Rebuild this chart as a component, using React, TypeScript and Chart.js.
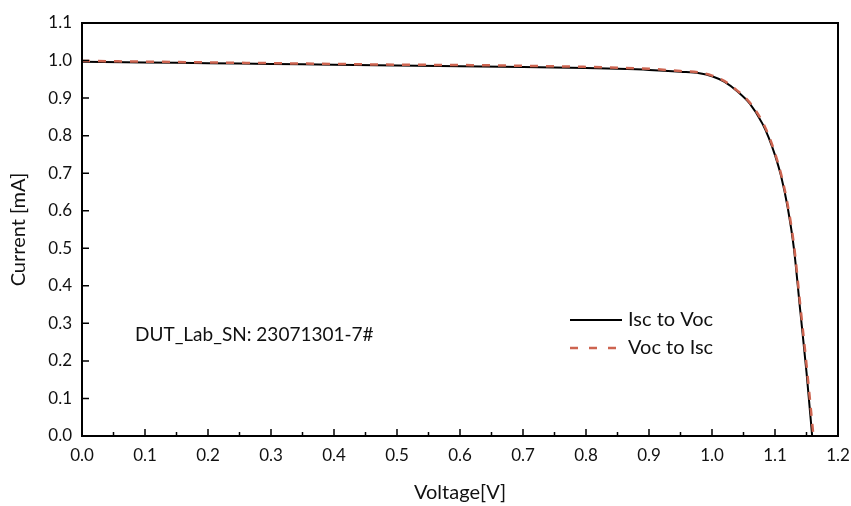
import React, { useEffect, useRef } from "react";
import { Chart, registerables } from "chart.js";

Chart.register(...registerables);

const iscToVocV = [0, 0.1, 0.2, 0.3, 0.4, 0.5, 0.6, 0.7, 0.8, 0.85, 0.9, 0.95, 0.98, 1.0, 1.02, 1.04, 1.06, 1.08, 1.09, 1.1, 1.11, 1.12, 1.13, 1.14, 1.15, 1.159];
const iscToVocI = [0.997, 0.995, 0.993, 0.991, 0.989, 0.987, 0.985, 0.983, 0.980, 0.978, 0.975, 0.970, 0.966, 0.958, 0.943, 0.918, 0.885, 0.832, 0.795, 0.748, 0.69, 0.61, 0.50, 0.335, 0.17, 0.0];
const vocToIscV = [0, 0.1, 0.2, 0.3, 0.4, 0.5, 0.6, 0.7, 0.8, 0.85, 0.9, 0.95, 0.98, 1.0, 1.02, 1.04, 1.06, 1.08, 1.09, 1.1, 1.11, 1.12, 1.13, 1.14, 1.15, 1.161];
const vocToIscI = [0.999, 0.997, 0.995, 0.993, 0.991, 0.989, 0.988, 0.986, 0.983, 0.981, 0.978, 0.972, 0.968, 0.960, 0.945, 0.920, 0.888, 0.837, 0.80, 0.753, 0.695, 0.617, 0.51, 0.35, 0.19, 0.0];

const xMajorTicks = [0, 0.1, 0.2, 0.3, 0.4, 0.5, 0.6, 0.7, 0.8, 0.9, 1.0, 1.1, 1.2];
const xMinorTicks = [0.05, 0.15, 0.25, 0.35, 0.45, 0.55, 0.65, 0.75, 0.85, 0.95, 1.05, 1.15];
const yMajorTicks = [0, 0.1, 0.2, 0.3, 0.4, 0.5, 0.6, 0.7, 0.8, 0.9, 1.0, 1.1];

const seriesNames = ["Isc to Voc", "Voc to Isc"];
const annotationText = "DUT_Lab_SN: 23071301-7#";

const RED = "#cd6450";
const FONT = "Lato, 'Open Sans', sans-serif";

const framePlugin = {
  id: "frame",
  afterDraw(chart: any) {
    const { ctx, chartArea, scales } = chart;
    const { left, right, top, bottom } = chartArea;
    const xs = scales.x;
    const ys = scales.y;
    ctx.save();
    ctx.strokeStyle = "#000";
    ctx.lineWidth = 2;
    ctx.beginPath();
    ctx.moveTo(left, top);
    ctx.lineTo(right, top);
    ctx.lineTo(right, bottom);
    ctx.lineTo(left, bottom);
    ctx.closePath();
    ctx.stroke();
    ctx.lineWidth = 1.5;
    ctx.beginPath();
    xMajorTicks.forEach((v) => {
      const px = xs.getPixelForValue(v);
      ctx.moveTo(px, bottom);
      ctx.lineTo(px, bottom - 7);
    });
    xMinorTicks.forEach((v) => {
      const px = xs.getPixelForValue(v);
      ctx.moveTo(px, bottom);
      ctx.lineTo(px, bottom - 4);
    });
    yMajorTicks.forEach((v) => {
      const py = ys.getPixelForValue(v);
      ctx.moveTo(left, py);
      ctx.lineTo(left + 7, py);
    });
    ctx.stroke();

    // legend
    const lx = 570;
    const ly1 = 320;
    const ly2 = 348;
    ctx.lineWidth = 2;
    ctx.strokeStyle = "#000";
    ctx.setLineDash([]);
    ctx.beginPath();
    ctx.moveTo(lx, ly1);
    ctx.lineTo(lx + 52, ly1);
    ctx.stroke();
    ctx.strokeStyle = RED;
    ctx.lineWidth = 2.5;
    ctx.setLineDash([8, 11]);
    ctx.beginPath();
    ctx.moveTo(lx, ly2);
    ctx.lineTo(lx + 53, ly2);
    ctx.stroke();
    ctx.setLineDash([]);
    ctx.fillStyle = "#111";
    ctx.font = `20px ${FONT}`;
    ctx.textBaseline = "middle";
    ctx.textAlign = "left";
    ctx.fillText(seriesNames[0], lx + 58, ly1);
    ctx.fillText(seriesNames[1], lx + 58, ly2);

    // annotation
    ctx.font = `19px ${FONT}`;
    ctx.fillText(annotationText, 135, 335);
    ctx.restore();
  },
};

export default function App() {
  const ref = useRef<HTMLCanvasElement | null>(null);
  useEffect(() => {
    document.body.style.margin = "0";
    const canvas = ref.current;
    if (!canvas) return;
    const chart = new Chart(canvas, {
      type: "scatter",
      data: {
        datasets: [
          {
            label: seriesNames[1],
            data: vocToIscV.map((v, i) => ({ x: v, y: vocToIscI[i] })),
            showLine: true,
            borderColor: RED,
            borderWidth: 2.5,
            borderDash: [8, 8],
            pointRadius: 0,
            cubicInterpolationMode: "monotone",
            order: 0,
          },
          {
            label: seriesNames[0],
            data: iscToVocV.map((v, i) => ({ x: v, y: iscToVocI[i] })),
            showLine: true,
            borderColor: "#000",
            borderWidth: 2,
            pointRadius: 0,
            cubicInterpolationMode: "monotone",
            order: 1,
          },
        ],
      },
      options: {
        animation: false,
        responsive: false,
        maintainAspectRatio: false,
        layout: { padding: { top: 23, right: 13, left: 0, bottom: 0 } },
        plugins: {
          legend: { display: false },
          tooltip: { enabled: false },
        },
        scales: {
          x: {
            type: "linear",
            min: 0,
            max: 1.2,
            afterFit: (s: any) => {
              s.height = 70;
              s.paddingLeft = 0;
              s.paddingRight = 0;
            },
            afterBuildTicks: (s: any) => {
              s.ticks = xMajorTicks.map((v) => ({ value: v }));
            },
            grid: { display: false, drawTicks: false },
            border: { display: false },
            ticks: {
              padding: 9,
              color: "#111",
              font: { family: FONT, size: 17 },
              callback: (v: any) => Number(v).toFixed(1),
            },
            title: {
              display: true,
              text: "Voltage[V]",
              color: "#111",
              font: { family: FONT, size: 20 },
              padding: { top: 0, bottom: 1 },
            },
          },
          y: {
            type: "linear",
            min: 0,
            max: 1.1,
            afterFit: (s: any) => {
              s.width = 82;
              s.paddingTop = 0;
              s.paddingBottom = 0;
            },
            afterBuildTicks: (s: any) => {
              s.ticks = yMajorTicks.map((v) => ({ value: v }));
            },
            grid: { display: false, drawTicks: false },
            border: { display: false },
            ticks: {
              padding: 10,
              color: "#111",
              font: { family: FONT, size: 17 },
              callback: (v: any) => Number(v).toFixed(1),
            },
            title: {
              display: true,
              text: "Current [mA]",
              color: "#111",
              font: { family: FONT, size: 20 },
              padding: { top: 7, bottom: 0 },
            },
          },
        },
      },
      plugins: [framePlugin],
    });
    return () => chart.destroy();
  }, []);
  return (
    <div style={{ position: "absolute", left: 0, top: 0, width: 851, height: 506, background: "#fff" }}>
      <canvas ref={ref} width={851} height={506} style={{ display: "block" }} />
    </div>
  );
}
